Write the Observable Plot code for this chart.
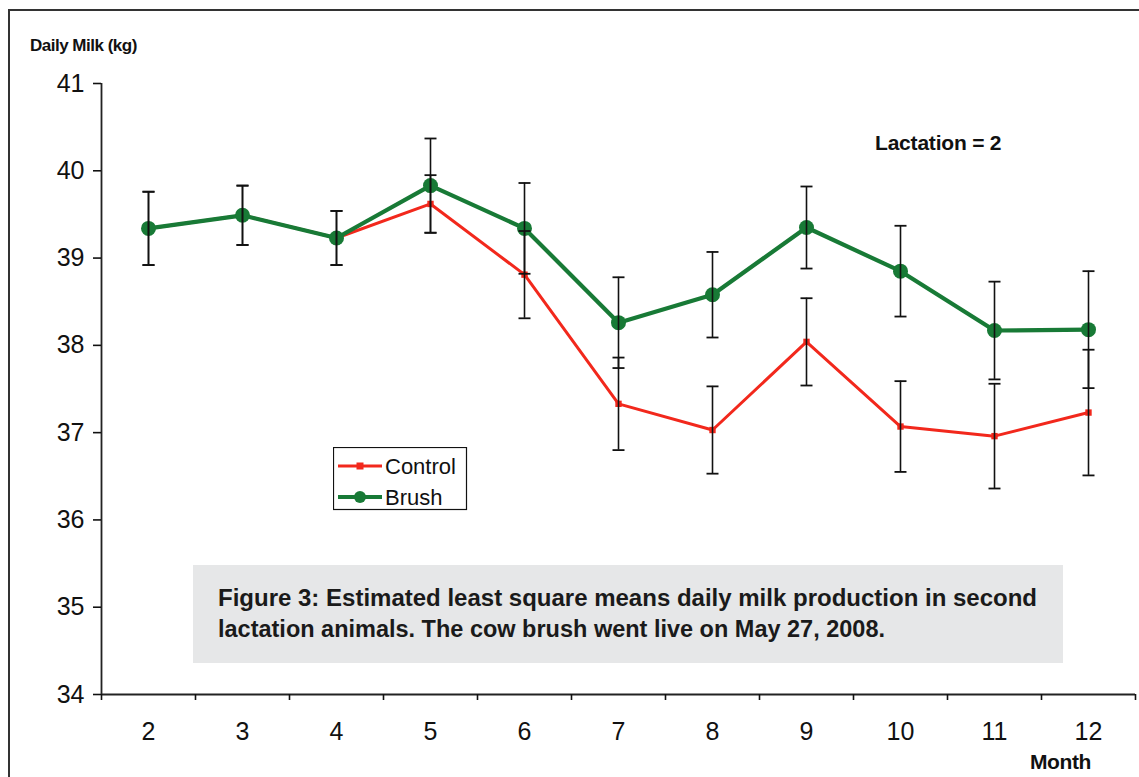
<!DOCTYPE html>
<html>
<head>
<meta charset="utf-8">
<script src="https://cdn.jsdelivr.net/npm/d3@7"></script>
<script src="https://cdn.jsdelivr.net/npm/@observablehq/plot@0.6"></script>
<style>
  html, body { margin: 0; padding: 0; background: #fff; }
  #wrap { position: relative; width: 1139px; height: 777px; overflow: hidden; font-family: "Liberation Sans", Arial, sans-serif; color: #111; }
  #frame { position: absolute; left: 8px; top: 9px; width: 1200px; height: 800px; border-left: 2px solid #333; border-top: 2px solid #333; box-sizing: border-box; }
  #chart { position: absolute; left: 0; top: 0; }
  .lbl { position: absolute; font-weight: bold; white-space: nowrap; line-height: 1; }
  #ytitle { left: 30px; top: 37px; font-size: 17px; letter-spacing: -0.5px; }
  #lact { left: 875px; top: 132px; font-size: 21px; letter-spacing: -0.2px; }
  #month { left: 1030px; top: 751px; font-size: 21px; letter-spacing: -0.4px; }
  #caption { position: absolute; left: 193px; top: 565px; }
  #legend { position: absolute; left: 333px; top: 447px; }
</style>
</head>
<body>
<div id="wrap">
  <div id="chart"></div>
  <div id="frame"></div>
  <div class="lbl" id="ytitle">Daily Milk (kg)</div>
  <div class="lbl" id="lact">Lactation = 2</div>
  <div class="lbl" id="month">Month</div>
  <svg id="legend" width="135" height="64"></svg>
  <svg id="caption" width="870" height="98"></svg>
</div>
<script>
// ---- data ----
const months = [2, 3, 4, 5, 6, 7, 8, 9, 10, 11, 12];
const brushMean    = [39.34, 39.49, 39.23, 39.83, 39.34, 38.26, 38.58, 39.35, 38.85, 38.17, 38.18];
const brushErr     = [0.42, 0.34, 0.31, 0.54, 0.52, 0.52, 0.49, 0.47, 0.52, 0.56, 0.67];
const controlMean  = [39.34, 39.49, 39.23, 39.62, 38.81, 37.33, 37.03, 38.04, 37.07, 36.96, 37.23];
const controlErr   = [0.42, 0.34, 0.31, 0.33, 0.50, 0.53, 0.50, 0.50, 0.52, 0.60, 0.72];
const yTicks = [34, 35, 36, 37, 38, 39, 40, 41];
const seriesNames = ["Control", "Brush"];
const captionLines = [
  "Figure 3: Estimated least square means daily milk production in second",
  "lactation animals. The cow brush went live on May 27, 2008."
];
const annotation = "Lactation = 2";

const RED = "#f2281c";
const GREEN = "#187a36";

const control = months.map((m, i) => ({month: m, value: controlMean[i], err: controlErr[i], series: "Control"}));
const brush = months.map((m, i) => ({month: m, value: brushMean[i], err: brushErr[i], series: "Brush"}));
const all = control.concat(brush);
const bounds = months.map(m => m - 0.5).concat([months[months.length - 1] + 0.5]);

const capSymbol = { draw(ctx) { ctx.moveTo(-6, 0); ctx.lineTo(6, 0); } };

const chart = Plot.plot({
  width: 1139,
  height: 777,
  marginLeft: 101,
  marginRight: 4,
  marginTop: 83,
  marginBottom: 83,
  x: {type: "linear", domain: [bounds[0], bounds[bounds.length - 1]]},
  y: {domain: [34, 41]},
  style: {fontFamily: "'Liberation Sans', Arial, sans-serif", fontSize: "25px", color: "#111", background: "transparent"},
  marks: [
    Plot.ruleX([bounds[0]], {y1: 34, y2: 41, stroke: "#222", strokeWidth: 1.8}),
    Plot.ruleY([34], {x1: bounds[0], x2: bounds[bounds.length - 1], stroke: "#222", strokeWidth: 1.8}),
    Plot.axisY({ticks: yTicks, tickSize: 8, tickPadding: 9, tickFormat: d3.format("d"), label: null, fontSize: 25, strokeWidth: 1.6, strokeOpacity: 1}),
    Plot.axisX({ticks: bounds, tickSize: 6, tickFormat: () => "", label: null, strokeWidth: 1.6, strokeOpacity: 1}),
    Plot.axisX({ticks: months, tickSize: 0, tickPadding: 28, tickFormat: d3.format("d"), label: null, fontSize: 25}),
    Plot.line(control, {x: "month", y: "value", stroke: RED, strokeWidth: 3}),
    Plot.dot(control, {x: "month", y: "value", symbol: "square", r: 3.6, fill: RED}),
    Plot.line(brush, {x: "month", y: "value", stroke: GREEN, strokeWidth: 4.2}),
    Plot.dot(brush, {x: "month", y: "value", r: 7.5, fill: GREEN}),
    Plot.ruleX(all, {x: "month", y1: d => d.value - d.err, y2: d => d.value + d.err, stroke: "#111", strokeWidth: 1.6}),
    Plot.dot(all, {x: "month", y: d => d.value - d.err, symbol: capSymbol, stroke: "#111", strokeWidth: 1.8, fill: "none"}),
    Plot.dot(all, {x: "month", y: d => d.value + d.err, symbol: capSymbol, stroke: "#111", strokeWidth: 1.8, fill: "none"})
  ]
});
document.getElementById("chart").appendChild(chart);
document.getElementById("lact").textContent = annotation;

// legend
const lg = d3.select("#legend");
lg.append("rect").attr("x", 0.5).attr("y", 0.5).attr("width", 133).attr("height", 62)
  .attr("fill", "#fff").attr("stroke", "#111").attr("stroke-width", 1.2);
const legendItems = [
  {name: seriesNames[0], color: RED, w: 3, shape: "square", y: 19},
  {name: seriesNames[1], color: GREEN, w: 4.2, shape: "circle", y: 50}
];
legendItems.forEach(it => {
  lg.append("line").attr("x1", 5).attr("x2", 49).attr("y1", it.y).attr("y2", it.y)
    .attr("stroke", it.color).attr("stroke-width", it.w);
  if (it.shape === "square") {
    lg.append("rect").attr("x", 23.5).attr("y", it.y - 3.5).attr("width", 7).attr("height", 7).attr("fill", it.color);
  } else {
    lg.append("circle").attr("cx", 27).attr("cy", it.y).attr("r", 6).attr("fill", it.color);
  }
  lg.append("text").attr("x", 52).attr("y", it.y + 8).attr("font-size", 22)
    .attr("font-family", "'Liberation Sans', Arial, sans-serif").attr("fill", "#111").text(it.name);
});

// caption
const cp = d3.select("#caption");
cp.append("rect").attr("width", 870).attr("height", 98).attr("fill", "#e6e7e8");
const capLens = [819, 667];
captionLines.forEach((t, i) => {
  cp.append("text").attr("x", 25).attr("y", 41 + i * 31)
    .attr("font-size", 23).attr("font-weight", "bold")
    .attr("font-family", "'Liberation Sans', Arial, sans-serif")
    .attr("fill", "#1a1a1a")
    .attr("textLength", capLens[i]).attr("lengthAdjust", "spacingAndGlyphs")
    .text(t);
});
</script>
</body>
</html>
